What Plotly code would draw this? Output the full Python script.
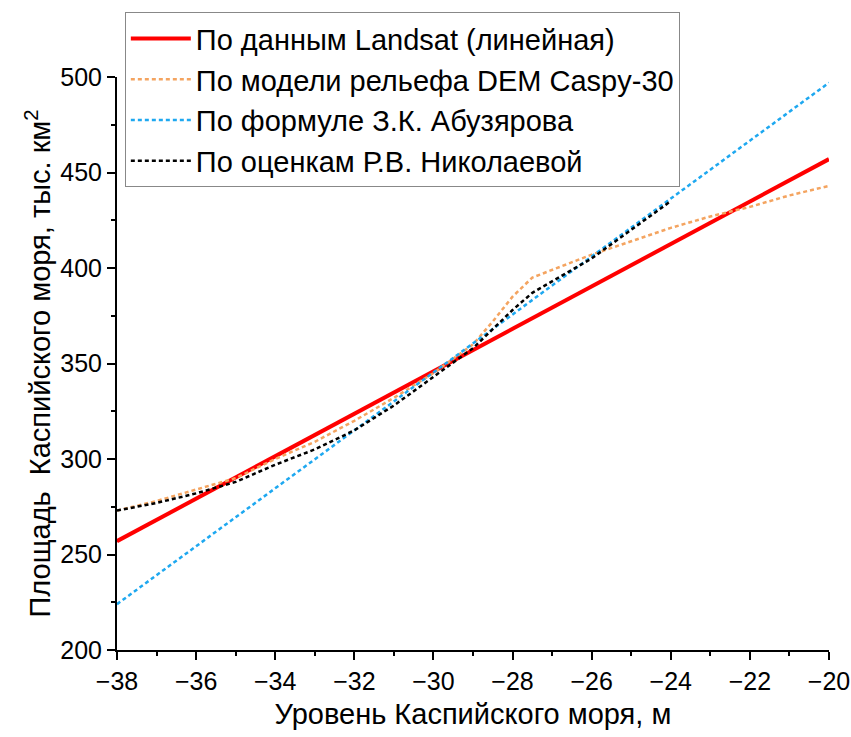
import plotly.graph_objects as go

# Data
x_landsat = [-38, -20]
y_landsat = [257, 457]

x_dem = [-38, -37, -36, -35, -34, -33, -32, -31, -30, -29, -28.5, -28, -27.5, -27, -26, -25, -24, -23, -22, -21, -20]
y_dem = [273, 278, 284, 290, 300, 309, 320, 332, 345, 360, 372, 385, 395, 399, 407, 414, 421, 427, 432, 438, 443]

x_abuz = [-38, -20]
y_abuz = [224, 497]

x_nik = [-38, -37, -36, -35, -34, -33, -32, -31, -30, -29, -28.5, -28, -27.5, -27, -26, -25, -24]
y_nik = [273, 277, 282, 288, 297, 305, 315, 328, 343, 358, 368, 378, 387, 393, 405, 420, 435]

names = ["По данным Landsat (линейная)", "По модели рельефа DEM Caspy-30",
         "По формуле З.К. Абузярова", "По оценкам Р.В. Николаевой"]

FONT = "Liberation Sans, Arial, sans-serif"

fig = go.Figure()
fig.add_trace(go.Scatter(x=x_landsat, y=y_landsat, mode="lines", name=names[0],
                         line=dict(color="#FF0000", width=4)))
fig.add_trace(go.Scatter(x=x_dem, y=y_dem, mode="lines", name=names[1],
                         line=dict(color="#F4A460", width=2.5, dash="4px,3px")))
fig.add_trace(go.Scatter(x=x_abuz, y=y_abuz, mode="lines", name=names[2],
                         line=dict(color="#1EA8F0", width=2.5, dash="4px,3px")))
fig.add_trace(go.Scatter(x=x_nik, y=y_nik, mode="lines", name=names[3],
                         line=dict(color="#000000", width=2.5, dash="4px,3px")))

fig.update_layout(
    width=851, height=737,
    margin=dict(l=117, r=22, t=77, b=87),
    plot_bgcolor="white", paper_bgcolor="white",
    font=dict(family=FONT, color="black"),
    legend=dict(x=0.011, y=1.113, xanchor="left", yanchor="top",
                bgcolor="white", bordercolor="#888888", borderwidth=1,
                font=dict(size=29, family=FONT), tracegroupgap=0,
                itemwidth=60),
)

fig.update_xaxes(
    range=[-38, -20], tickvals=list(range(-38, -19, 2)),
    ticktext=["\u2212" + str(abs(v)) for v in range(-38, -19, 2)],
    showline=True, linecolor="black", linewidth=2,
    ticks="outside", ticklen=8, tickwidth=2, tickcolor="black",
    minor=dict(dtick=1, ticks="outside", ticklen=4, tickwidth=2, tickcolor="black", showgrid=False),
    showgrid=False, zeroline=False, automargin=False,
    tickfont=dict(size=25, family=FONT),
    title=dict(text="Уровень Каспийского моря, м", font=dict(size=29, family=FONT), standoff=10),
)
fig.update_yaxes(
    range=[200, 500], tickvals=list(range(200, 501, 50)),
    showline=True, linecolor="black", linewidth=2,
    ticks="outside", ticklen=8, tickwidth=2, tickcolor="black",
    minor=dict(dtick=25, ticks="outside", ticklen=4, tickwidth=2, tickcolor="black", showgrid=False),
    showgrid=False, zeroline=False, automargin=False,
    tickfont=dict(size=25, family=FONT),
    title=dict(text="Площадь  Каспийского моря, тыс. км<sup>2</sup>", font=dict(size=29, family=FONT), standoff=1),
)

fig.write_html("out.html")
